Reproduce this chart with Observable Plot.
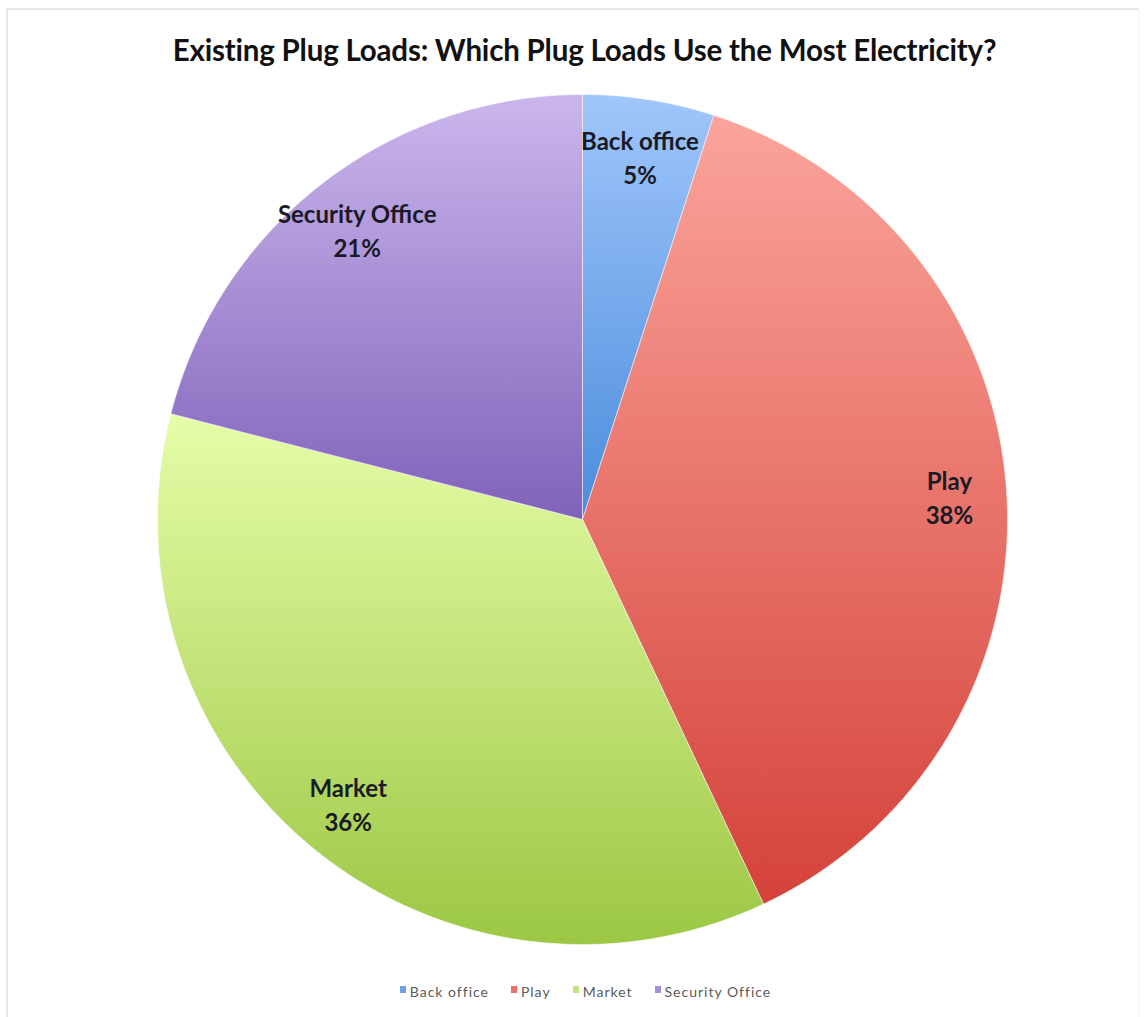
<!DOCTYPE html>
<html>
<head>
<meta charset="utf-8">
<script src="https://cdn.jsdelivr.net/npm/d3@7"></script>
<script src="https://cdn.jsdelivr.net/npm/@observablehq/plot@0.6"></script>
<style>
  html, body { margin: 0; padding: 0; background: #fff; }
  #wrap { position: relative; width: 1145px; height: 1017px; overflow: hidden; font-family: Lato, "Open Sans", sans-serif; }
  #frame { position: absolute; left: 6px; top: 8px; width: 1133px; height: 1020px; border-left: 2px solid #e6e8ec; border-top: 2px solid #e6e8ec; border-right: 1px solid #f4f4f4; box-sizing: border-box; }
  #title { position: absolute; top: 31px; left: 0; width: 1169px; text-align: center; font-weight: 700; font-size: 29.5px; color: #111; line-height: 38px; letter-spacing: -0.2px; }
  #chart { position: absolute; top: 85px; left: 0; }
  #legend { position: absolute; top: 981px; left: 0; width: 1171px; text-align: center; font-size: 14px; color: #5a5a5a; line-height: 22px; letter-spacing: 1px; }
  #legend span.item { margin: 0 11px; white-space: nowrap; }
  #legend span.sw { display: inline-block; width: 6px; height: 7px; margin-right: 4px; vertical-align: 4px; }
</style>
</head>
<body>
<div id="wrap">
  <div id="frame"></div>
  <div id="title">Existing Plug Loads: Which Plug Loads Use the Most Electricity?</div>
  <div id="chart"></div>
  <div id="legend"></div>
</div>
<script>
// ---- data ----
const categories = ["Back office", "Play", "Market", "Security Office"];
const values = [5, 38, 36, 21];
const percentLabels = ["5%", "38%", "36%", "21%"];

// ---- styles ----
const topColors = ["#a0c6fb", "#fba49b", "#e6fda8", "#cbb6ec"];
const bottomColors = ["#4a8cdc", "#d4423a", "#9cc744", "#8062ba"];
const legendColors = ["#6f9fe6", "#e8716a", "#c2e27a", "#a58fd6"];

// ---- geometry from data via d3.pie ----
const arcs = d3.pie().sort(null).value(d => d)(values);
const slicePoints = [];
arcs.forEach((a, i) => {
  slicePoints.push({cat: categories[i], x: 0, y: 0});
  const n = Math.max(4, Math.ceil((a.endAngle - a.startAngle) / (Math.PI / 360)));
  for (let k = 0; k <= n; k++) {
    const t = a.startAngle + (a.endAngle - a.startAngle) * k / n;
    slicePoints.push({cat: categories[i], x: Math.sin(t), y: Math.cos(t)});
  }
  slicePoints.push({cat: categories[i], x: 0, y: 0});
});
const labelRadius = 0.865;
const labels = arcs.map((a, i) => {
  const m = (a.startAngle + a.endAngle) / 2;
  return {cat: categories[i], text: categories[i] + "\n" + percentLabels[i], x: labelRadius * Math.sin(m), y: labelRadius * Math.cos(m)};
});

const defsMark = () => {
  const defs = d3.create("svg:defs");
  categories.forEach((c, i) => {
    const g = defs.append("linearGradient").attr("id", "grad" + i)
      .attr("x1", 0).attr("y1", 0).attr("x2", 0).attr("y2", 1);
    g.append("stop").attr("offset", "0%").attr("stop-color", topColors[i]);
    g.append("stop").attr("offset", "100%").attr("stop-color", bottomColors[i]);
  });
  return defs.node();
};

const cx = 582, cy = 519 - 85, R = 425;
const chart = Plot.plot({
  width: 1145,
  height: 870,
  x: {domain: [-1, 1], range: [cx - R, cx + R], axis: null},
  y: {domain: [-1, 1], range: [cy + R, cy - R], axis: null},
  style: {background: "transparent", overflow: "visible"},
  marks: [
    defsMark,
    ...categories.map((c, i) => Plot.line(slicePoints.filter(d => d.cat === c), {
      x: "x", y: "y", fill: `url(#grad${i})`, stroke: "#ffffff", strokeWidth: 1, strokeOpacity: 0.5, curve: "linear"
    })),
    Plot.text(labels, {
      x: "x", y: "y", text: "text", fontSize: 24, fontWeight: 700, lineHeight: 1.42,
      fill: "#1a1a26", fontFamily: "Lato, 'Open Sans', sans-serif"
    })
  ]
});
document.getElementById("chart").appendChild(chart);

const legend = document.getElementById("legend");
categories.forEach((c, i) => {
  const item = document.createElement("span");
  item.className = "item";
  const sw = document.createElement("span");
  sw.className = "sw";
  sw.style.background = legendColors[i];
  item.appendChild(sw);
  item.appendChild(document.createTextNode(c));
  legend.appendChild(item);
});
</script>
</body>
</html>
